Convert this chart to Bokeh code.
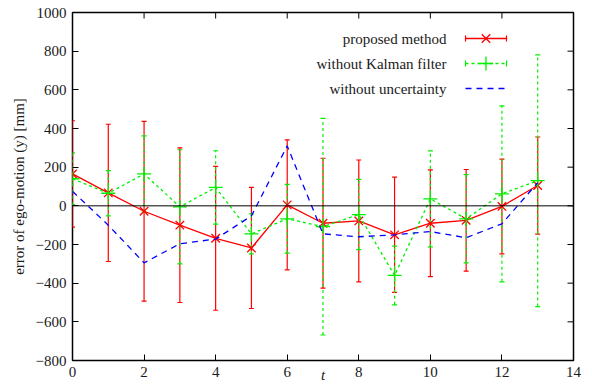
from bokeh.plotting import figure
from bokeh.models import (Range1d, FixedTicker, LinearAxis, Span, Whisker, TeeHead,
                          ColumnDataSource, Label)
from bokeh.embed import file_html
from bokeh.resources import INLINE
import math

# ---- data ----
t = list(range(14))
proposed = [165, 67, -28, -100, -168, -218, 5, -90, -78, -150, -90, -75, -3, 105]
proposed_err = [275, 355, 465, 400, 372, 313, 336, 336, 315, 298, 276, 263, 245, 251]
kalman = [140, 65, 165, -5, 95, -145, -67, -108, -45, -360, 36, -67, 62, 130]
kalman_err = [134, 117, 197, 295, 190, 103, 178, 560, 182, 152, 248, 228, 455, 651]
no_unc = [75, -100, -295, -196, -172, -52, 310, -145, -160, -150, -133, -165, -93, 120]
x_ticks = [0, 2, 4, 6, 8, 10, 12, 14]
y_ticks = [-800, -600, -400, -200, 0, 200, 400, 600, 800, 1000]
series_names = ["proposed method", "without Kalman filter", "without uncertainty"]

FONT = "'Liberation Serif', 'Times New Roman', Times, serif"
FS = "15px"
TXT = "#1a1a1a"
RED, GREEN, BLUE = "#ff0000", "#00f000", "#0000ff"

X0, X1, Y0, Y1 = 0, 14, -800, 1000
FL, FR, FT, FB = 72, 573, 12, 360  # frame pixel box

p = figure(width=592, height=387, output_backend="svg", toolbar_location=None,
           x_range=Range1d(X0, X1), y_range=Range1d(Y0, Y1),
           min_border_left=FL, min_border_right=592 - FR,
           min_border_top=FT, min_border_bottom=387 - FB,
           x_axis_type=None, y_axis_type=None)
p.background_fill_color = "white"
p.border_fill_color = "white"
p.grid.visible = False
p.outline_line_color = "black"
p.outline_line_width = 1.5


def style_axis(ax, ticks):
    ax.ticker = FixedTicker(ticks=ticks)
    ax.major_tick_in = 6
    ax.major_tick_out = 0
    ax.minor_tick_line_color = None
    ax.axis_line_color = None
    ax.major_tick_line_color = "black"
    ax.major_tick_line_width = 1
    ax.major_label_text_font = FONT
    ax.major_label_text_color = TXT
    ax.major_label_standoff = 6
    ax.major_label_text_font_size = FS
    ax.axis_label_text_font = FONT
    ax.axis_label_text_color = TXT
    ax.axis_label_text_font_size = FS


bx = LinearAxis(axis_label="t")
style_axis(bx, x_ticks)
bx.axis_label_text_font_style = "italic"
bx.axis_label_standoff = -13
p.add_layout(bx, "below")

ly = LinearAxis(axis_label="error of ego-motion (y) [mm]")
style_axis(ly, y_ticks)
ly.axis_label_text_font_style = "normal"
ly.axis_label_standoff = 6
p.add_layout(ly, "left")

# mirrored inward ticks on top and right (half of each dash is clipped by the frame)
p.scatter(x_ticks, [Y1] * len(x_ticks), marker="dash", angle=math.pi / 2, size=12,
          line_color="black", line_width=1)
p.scatter([X1] * len(y_ticks), y_ticks, marker="dash", size=12,
          line_color="black", line_width=1)

# zero axis
p.add_layout(Span(location=0, dimension="width", line_color="black", line_width=1))

# proposed method
src_p = ColumnDataSource(dict(t=t, y=proposed,
                              lo=[v - e for v, e in zip(proposed, proposed_err)],
                              hi=[v + e for v, e in zip(proposed, proposed_err)]))
p.add_layout(Whisker(base="t", upper="hi", lower="lo", source=src_p,
                     line_color=RED, line_width=1.2,
                     upper_head=TeeHead(size=5, line_color=RED, line_width=1.2),
                     lower_head=TeeHead(size=5, line_color=RED, line_width=1.2)))
p.line("t", "y", source=src_p, line_color=RED, line_width=1.3)
p.scatter("t", "y", source=src_p, marker="x", size=12, line_color=RED, line_width=1.3)

# without Kalman filter
src_k = ColumnDataSource(dict(t=t, y=kalman,
                              lo=[v - e for v, e in zip(kalman, kalman_err)],
                              hi=[v + e for v, e in zip(kalman, kalman_err)]))
p.add_layout(Whisker(base="t", upper="hi", lower="lo", source=src_k,
                     line_color=GREEN, line_width=1.2, line_dash="3 3",
                     upper_head=TeeHead(size=5, line_color=GREEN, line_width=1.2),
                     lower_head=TeeHead(size=5, line_color=GREEN, line_width=1.2)))
p.line("t", "y", source=src_k, line_color=GREEN, line_width=1.3, line_dash="3 3")
p.scatter("t", "y", source=src_k, marker="cross", size=14, line_color=GREEN, line_width=1.3)

# without uncertainty
p.line(t, no_unc, line_color=BLUE, line_width=1.3, line_dash="6 5")

# ---- manual legend (label left of sample, gnuplot style) ----
def dx(px):
    return X0 + (px - FL) / (FR - FL) * (X1 - X0)

def dy(py):
    return Y1 - (py - FT) / (FB - FT) * (Y1 - Y0)

rows = [38, 63, 88]
s0, s1 = 465, 506
styles = [(RED, None, "x", 12), (GREEN, "3 3", "cross", 14), (BLUE, "6 5", None, 0)]
for name, py, (col, dash, mk, sz) in zip(series_names, rows, styles):
    kw = {} if dash is None else {"line_dash": dash}
    p.line([dx(s0), dx(s1)], [dy(py), dy(py)], line_color=col, line_width=1.3, **kw)
    if mk is not None:
        for ex in (s0, s1):
            p.line([dx(ex), dx(ex)], [dy(py - 3), dy(py + 3)], line_color=col, line_width=1.2)
        p.scatter([dx((s0 + s1) / 2)], [dy(py)], marker=mk, size=sz, line_color=col, line_width=1.3)
    p.add_layout(Label(x=446 - FL, y=FB - py, x_units="screen", y_units="screen",
                       text=name, text_align="right", text_baseline="middle",
                       text_font=FONT, text_font_size=FS, text_color=TXT))

open("out.html", "w").write(file_html(p, INLINE))
